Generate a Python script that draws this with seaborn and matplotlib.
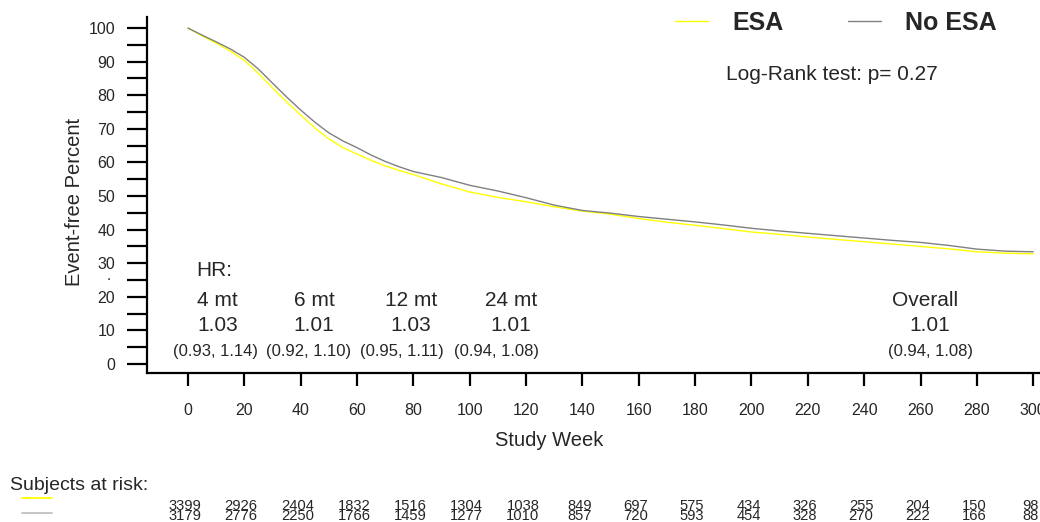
import numpy as np
import pandas as pd
import matplotlib
matplotlib.use("Agg")
import matplotlib.pyplot as plt
import matplotlib.transforms as mtransforms
from matplotlib.lines import Line2D
import seaborn as sns

# ---------------- data ----------------
weeks = [0, 5, 10, 15, 20, 25, 30, 35, 40, 45, 50, 55, 60, 65, 70, 75, 80,
         90, 100, 110, 120, 130, 140, 150, 160, 170, 180, 190, 200, 210, 220,
         230, 240, 250, 260, 270, 280, 290, 300]
esa_pct = [100, 97.7, 95.5, 93.2, 90.4, 86.5, 82.2, 78.0, 74.1, 70.3, 67.0, 64.4,
           62.5, 60.6, 59.0, 57.6, 56.4,
           53.6, 51.2, 49.6, 48.3, 46.8, 45.5, 44.6, 43.3, 42.2, 41.3, 40.3, 39.3,
           38.6, 37.8, 37.1, 36.4, 35.7, 35.0, 34.3, 33.4, 33.0, 32.8]
noesa_pct = [100, 97.9, 95.9, 93.8, 91.3, 87.8, 83.6, 79.5, 75.6, 72.0, 68.8, 66.4,
             64.4, 62.2, 60.3, 58.7, 57.3,
             55.5, 53.2, 51.5, 49.5, 47.3, 45.7, 44.9, 43.9, 43.1, 42.3, 41.4, 40.4,
             39.6, 38.9, 38.2, 37.5, 36.8, 36.2, 35.3, 34.2, 33.6, 33.4]
groups = ["ESA", "No ESA"]

risk_weeks = [0, 20, 40, 60, 80, 100, 120, 140, 160, 180, 200, 220, 240, 260, 280, 300]
risk_esa = [3399, 2926, 2404, 1832, 1516, 1304, 1038, 849, 697, 575, 434, 326, 255, 204, 150, 98]
risk_noesa = [3179, 2776, 2250, 1766, 1459, 1277, 1010, 857, 720, 593, 454, 328, 270, 222, 166, 88]

hr_periods = ["4 mt", "6 mt", "12 mt", "24 mt"]
hr_values = ["1.03", "1.01", "1.03", "1.01"]
hr_cis = ["(0.93, 1.14)", "(0.92, 1.10)", "(0.95, 1.11)", "(0.94, 1.08)"]
overall_label = "Overall"
overall_value = "1.01"
overall_ci = "(0.94, 1.08)"
logrank_text = "Log-Rank test: p= 0.27"

# ---------------- style ----------------
sns.set_theme(style="ticks")
plt.rcParams["font.family"] = ["Liberation Sans", "DejaVu Sans"]

colors = {"ESA": "#FFFF00", "No ESA": "#808080"}

df = pd.DataFrame({
    "Study Week": weeks * 2,
    "Event-free Percent": esa_pct + noesa_pct,
    "group": [groups[0]] * len(weeks) + [groups[1]] * len(weeks),
})

W, H = 1040, 522
fig = plt.figure(figsize=(W / 100, H / 100), dpi=100)
ax = fig.add_axes([147 / W, 1 - 373 / H, (W - 147) / W, (373 - 17) / H])

sns.lineplot(data=df, x="Study Week", y="Event-free Percent", hue="group",
             palette=colors, linewidth=1.0, ax=ax, legend=False, sort=True)

ax.set_xlim(-14.55, 302.4)
ax.set_ylim(-2.68, 103.3)

for s in ["top", "right"]:
    ax.spines[s].set_visible(False)
for s in ["left", "bottom"]:
    ax.spines[s].set_linewidth(1.6)
    ax.spines[s].set_color("black")

ax.set_xticks(np.arange(0, 301, 20))
ax.set_yticks(np.arange(0, 101, 10))
ax.set_yticks(np.arange(5, 100, 10), minor=True)
ax.tick_params(axis="y", which="both", direction="out", length=14.4, width=1.6,
               color="black", labelsize=11.5, pad=8.5)
ax.tick_params(axis="x", which="major", direction="out", length=9.4, width=1.6,
               color="black", labelsize=11.5, pad=12.5)

ax.set_xlabel("Study Week", fontsize=14.5)
ax.set_ylabel("Event-free Percent", fontsize=14.5)
ax.xaxis.set_label_coords((549 - 147) / (W - 147), (373 - 441) / 356)
ax.xaxis.label.set_va("center")
ax.yaxis.set_label_coords((75 - 147) / (W - 147), (373 - 202) / 356)
ax.yaxis.label.set_va("center")

# hazard ratio annotations
ax.text(9.2, 27.7, "HR:", fontsize=15, ha="center", va="center")
col_x = [10.6, 44.7, 79.2, 114.6]
ci_x = [9.9, 42.9, 75.9, 109.6]
for i in range(len(hr_periods)):
    ax.text(col_x[i], 19.0, hr_periods[i], fontsize=15, ha="center", va="center")
    ax.text(col_x[i], 11.6, hr_values[i], fontsize=15, ha="center", va="center")
    ax.text(ci_x[i], 3.6, hr_cis[i], fontsize=12, ha="center", va="center")
ax.text(261.6, 19.0, overall_label, fontsize=15, ha="center", va="center")
ax.text(263.4, 11.6, overall_value, fontsize=15, ha="center", va="center")
ax.text(263.4, 3.6, overall_ci, fontsize=12, ha="center", va="center")

# stray dot near the 30 label
fig.text(109 / W, 1 - 280 / H, ".", fontsize=11, ha="center", va="baseline")

# legend
handles = [Line2D([], [], color=colors[g], linewidth=1.0) for g in groups]
leg = fig.legend(handles, groups, loc="center left",
                 bbox_to_anchor=(675 / W, 1 - 23 / H), frameon=False, ncol=2,
                 prop={"weight": "bold", "size": 18}, borderpad=0,
                 borderaxespad=0, handlelength=1.32, handletextpad=0.96,
                 columnspacing=2.6)

fig.text(726 / W, 1 - 75 / H, logrank_text, fontsize=15, ha="left", va="center")

# at-risk table
fig.text(10 / W, 1 - 485 / H, "Subjects at risk:", fontsize=14, ha="left", va="center")
fig.add_artist(Line2D([22 / W, 52 / W], [1 - 498 / H, 1 - 498 / H],
                      transform=fig.transFigure, color="#FFFF00", linewidth=1.3))
fig.add_artist(Line2D([22 / W, 52 / W], [1 - 513 / H, 1 - 513 / H],
                      transform=fig.transFigure, color="#C0C0C0", linewidth=1.3))
trans = mtransforms.blended_transform_factory(ax.transData, fig.transFigure)
for wk, a, b in zip(risk_weeks, risk_esa, risk_noesa):
    ax.text(wk - 1.1, 1 - 510 / H, str(a), transform=trans, fontsize=10.6,
            ha="center", va="baseline", clip_on=False)
    ax.text(wk - 1.1, 1 - 520.5 / H, str(b), transform=trans, fontsize=10.6,
            ha="center", va="baseline", clip_on=False)

fig.savefig("out.png", dpi=100)
